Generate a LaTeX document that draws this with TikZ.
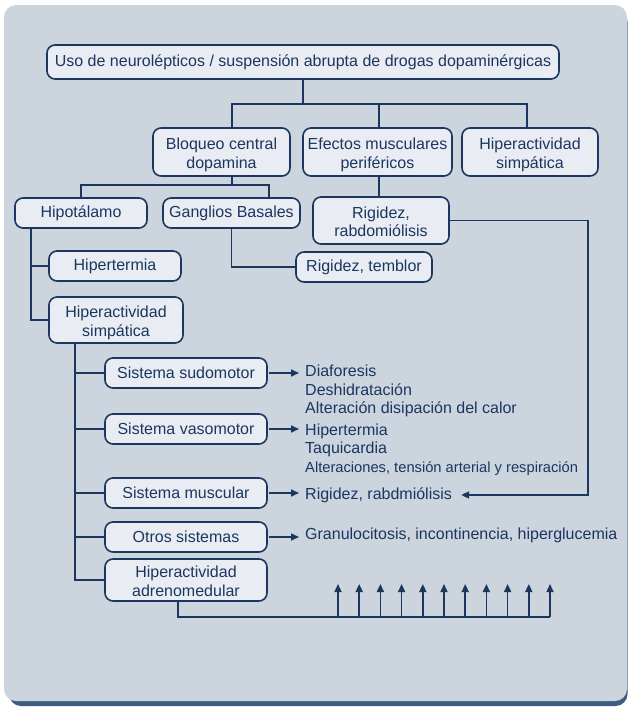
\documentclass[tikz,border=0pt]{standalone}
\usepackage{fontspec}
\setmainfont{Liberation Sans}
\usetikzlibrary{arrows.meta}
\definecolor{panel}{HTML}{CCD4DE}
\definecolor{shadowblue}{HTML}{3E5B82}
\definecolor{boxfill}{HTML}{E9EDF3}
\definecolor{navy}{HTML}{1B365F}
\newcommand{\twoline}[2]{\raisebox{-7.5pt}[0pt][0pt]{\begin{tabular}{@{}c@{}}#1\\#2\end{tabular}}}
\begin{document}
\begin{tikzpicture}[x=1pt,y=-1pt,
  box/.style={draw=navy, fill=boxfill, line width=1.6pt, rounded corners=8pt, align=center,
    text=navy, font=\fontsize{16}{18.5}\selectfont, inner sep=0pt},
  conn/.style={draw=navy, line width=1.6pt},
  arr/.style={conn, -{Triangle[length=8pt,width=7pt]}},
  lbl/.style={text=navy, font=\fontsize{16}{18.5}\selectfont, anchor=west, inner sep=0pt,
    text height=11.5pt, text depth=3.5pt},
  small/.style={font=\fontsize{14.7}{17}\selectfont}]
\useasboundingbox (0,0) rectangle (629,707);
\fill[white] (0,0) rectangle (629,707);
% panel
\fill[shadowblue, rounded corners=12pt] (9,10) rectangle (627.5,706);
\fill[panel, rounded corners=12pt] (4,5) rectangle (627,701);

% boxes
\node[box, minimum width=512pt, minimum height=34pt] (top) at (303,62)
  {Uso de neurolépticos / suspensión abrupta de drogas dopaminérgicas};
\node[box, minimum width=137pt, minimum height=48pt] (bloq) at (221.5,152) {\twoline{Bloqueo central}{dopamina}};
\node[box, minimum width=149pt, minimum height=48pt] (efec) at (377.5,152) {\twoline{Efectos musculares}{periféricos}};
\node[box, minimum width=136pt, minimum height=48pt] (hips) at (530,152) {\twoline{Hiperactividad}{simpática}};
\node[box, minimum width=132pt, minimum height=30pt] (hipo) at (81,213) {Hipotálamo};
\node[box, minimum width=137pt, minimum height=30pt] (gang) at (231.5,213) {Ganglios Basales};
\node[box, minimum width=136pt, minimum height=47pt] (rigr) at (381,220.5) {\twoline{Rigidez,}{rabdomiólisis}};
\node[box, minimum width=136pt, minimum height=30pt] (rigt) at (364,267) {Rigidez, temblor};
\node[box, minimum width=132pt, minimum height=30pt] (hipt) at (115,266) {Hipertermia};
\node[box, minimum width=134pt, minimum height=46pt] (hipb) at (116,320) {\twoline{Hiperactividad}{simpática}};
\node[box, minimum width=162pt, minimum height=30pt] (sudo) at (186,373) {Sistema sudomotor};
\node[box, minimum width=162pt, minimum height=30pt] (vaso) at (186,429) {Sistema vasomotor};
\node[box, minimum width=162pt, minimum height=30pt] (musc) at (186,493) {Sistema muscular};
\node[box, minimum width=162pt, minimum height=30pt] (otro) at (186,537) {Otros sistemas};
\node[box, minimum width=162pt, minimum height=42pt] (adre) at (186,580) {\twoline{Hiperactividad}{adrenomedular}};

% text lines
\node[lbl] (t1) at (305,372) {Diaforesis};
\node[lbl] (t2) at (305,391) {Deshidratación};
\node[lbl] (t3) at (305,409) {Alteración disipación del calor};
\node[lbl] (t4) at (305,431) {Hipertermia};
\node[lbl] (t5) at (305,449) {Taquicardia};
\node[lbl, small] (t6) at (305,468) {Alteraciones, tensión arterial y respiración};
\node[lbl] (t7) at (305,495) {Rigidez, rabdmiólisis};
\node[lbl] (t8) at (305,535) {Granulocitosis, incontinencia, hiperglucemia};

% helper coordinates
\coordinate (xa) at (232,0);
\coordinate (xb) at (379,0);
\coordinate (xc) at (527,0);
\coordinate (xd) at (269,0);
\coordinate (xe) at (588,0);
\coordinate (xf) at (31,0);
\coordinate (xg) at (75,0);
\coordinate (xh) at (178,0);
\coordinate (j1) at (303,104);
\coordinate (j2) at (232,185);
\coordinate (bend) at (550,617);

% connectors
\draw[conn] (top.south) -- (j1);
\draw[conn] (bloq.north -| xa) |- (j1) -| (hips.north -| xc);
\draw[conn] (efec.north -| xb) -- (j1 -| xb);
\draw[conn] (bloq.south -| xa) -- (j2);
\draw[conn] (hipo.north) |- (j2) -| (gang.north -| xd);
\draw[conn] (efec.south -| xb) -- (rigr.north -| xb);
\draw[conn] (gang.south) |- (rigt.west);
\draw[conn] (hipo.south -| xf) |- (hipt.west);
\draw[conn] (hipo.south -| xf) |- (hipb.west);
\draw[conn] (hipb.south -| xg) |- (sudo.west);
\draw[conn] (hipb.south -| xg) |- (vaso.west);
\draw[conn] (hipb.south -| xg) |- (musc.west);
\draw[conn] (hipb.south -| xg) |- (otro.west);
\draw[conn] (hipb.south -| xg) |- (adre.west);
\draw[arr, shorten <=1pt, shorten >=6pt] (sudo.east) -- (sudo.east -| t1.west);
\draw[arr, shorten <=1pt, shorten >=6pt] (vaso.east) -- (vaso.east -| t4.west);
\draw[arr, shorten <=1pt, shorten >=6pt] (musc.east) -- (musc.east -| t7.west);
\draw[arr, shorten <=1pt, shorten >=6pt] (otro.east) -- (otro.east -| t8.west);
\draw[arr, shorten >=9pt] (rigr.east) -| (xe |- t7.east) -- (t7.east);
\draw[conn] (adre.south -| xh) |- (bend);
\foreach \i in {0,...,10} {
  \coordinate (u\i) at ({338+21.2*\i},584);
  \draw[arr] (u\i |- bend) -- (u\i);
}
\end{tikzpicture}
\end{document}
